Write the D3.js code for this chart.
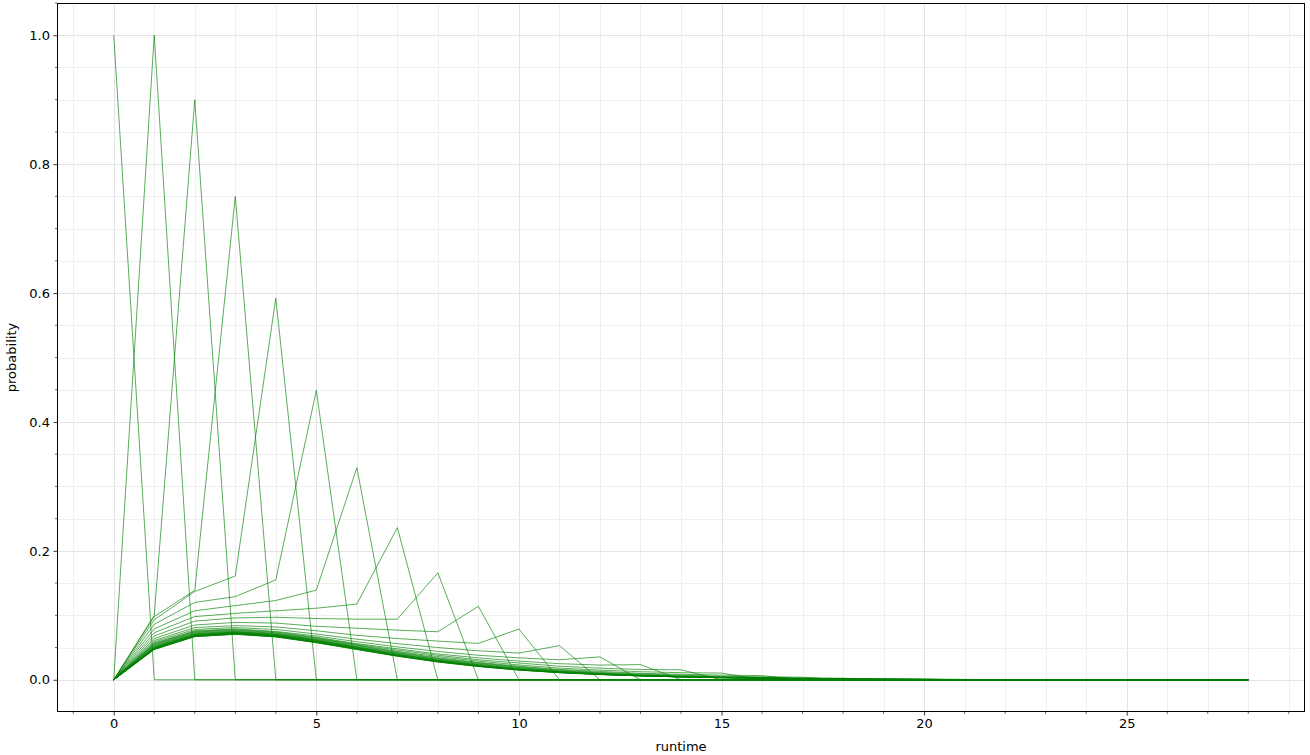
<!DOCTYPE html>
<html><head><meta charset="utf-8">
<script src="https://cdn.jsdelivr.net/npm/d3@7"></script>
<style>
html,body{margin:0;padding:0;background:#fff;}
svg{display:block;font-family:"DejaVu Sans",sans-serif;}
</style></head>
<body><svg id="c" width="1310" height="755"></svg>
<script>
const runtime = [0,1,2,3,4,5,6,7,8,9,10,11,12,13,14,15,16,17,18,19,20,21,22,23,24,25,26,27,28];
const xTicks = [0,5,10,15,20,25];
const yTicks = [0.0,0.2,0.4,0.6,0.8,1.0];
const xLabel = "runtime";
const yLabel = "probability";

const s00 = [1,0,0,0,0,0,0,0,0,0,0,0,0,0,0,0,0,0,0,0,0,0,0,0,0,0,0,0,0];
const s01 = [0,1,0,0,0,0,0,0,0,0,0,0,0,0,0,0,0,0,0,0,0,0,0,0,0,0,0,0,0];
const s02 = [0,0.100,0.900,0,0,0,0,0,0,0,0,0,0,0,0,0,0,0,0,0,0,0,0,0,0,0,0,0,0];
const s03 = [0,0.098,0.139,0.750,0,0,0,0,0,0,0,0,0,0,0,0,0,0,0,0,0,0,0,0,0,0,0,0,0];
const s04 = [0,0.093,0.137,0.161,0.592,0,0,0,0,0,0,0,0,0,0,0,0,0,0,0,0,0,0,0,0,0,0,0,0];
const s05 = [0,0.086,0.120,0.129,0.155,0.449,0,0,0,0,0,0,0,0,0,0,0,0,0,0,0,0,0,0,0,0,0,0,0];
const s06 = [0,0.079,0.107,0.115,0.123,0.139,0.329,0,0,0,0,0,0,0,0,0,0,0,0,0,0,0,0,0,0,0,0,0,0];
const s07 = [0,0.073,0.098,0.103,0.107,0.111,0.1175,0.236,0,0,0,0,0,0,0,0,0,0,0,0,0,0,0,0,0,0,0,0,0];
const s08 = [0,0.068,0.091,0.096,0.097,0.095,0.094,0.094,0.166,0,0,0,0,0,0,0,0,0,0,0,0,0,0,0,0,0,0,0,0];
const s09 = [0,0.064,0.085,0.089,0.088,0.083,0.080,0.077,0.0745,0.114,0,0,0,0,0,0,0,0,0,0,0,0,0,0,0,0,0,0,0];
const s10 = [0,0.061,0.081,0.084,0.082,0.076,0.069,0.064,0.060,0.0564,0.0787,0,0,0,0,0,0,0,0,0,0,0,0,0,0,0,0,0,0];
const s11 = [0,0.059,0.078,0.081,0.078,0.071,0.063,0.056,0.050,0.045,0.0414,0.053,0,0,0,0,0,0,0,0,0,0,0,0,0,0,0,0,0];
const s12 = [0,0.057,0.076,0.079,0.075,0.068,0.059,0.051,0.044,0.038,0.034,0.031,0.0355,0,0,0,0,0,0,0,0,0,0,0,0,0,0,0,0];
const s13 = [0,0.056,0.075,0.078,0.074,0.066,0.056,0.048,0.040,0.034,0.029,0.025,0.0228,0.0235,0,0,0,0,0,0,0,0,0,0,0,0,0,0,0];
const s14 = [0,0.055,0.074,0.077,0.073,0.065,0.055,0.046,0.038,0.031,0.026,0.021,0.018,0.016,0.0155,0,0,0,0,0,0,0,0,0,0,0,0,0,0];
const s15 = [0,0.054,0.073,0.076,0.072,0.064,0.054,0.044,0.036,0.029,0.023,0.018,0.015,0.0125,0.011,0.0104,0,0,0,0,0,0,0,0,0,0,0,0,0];
const s16 = [0,0.053,0.072,0.075,0.071,0.063,0.053,0.043,0.034,0.027,0.021,0.016,0.013,0.010,0.0085,0.0072,0.0065,0,0,0,0,0,0,0,0,0,0,0,0];
const s17 = [0,0.052,0.071,0.0745,0.0705,0.062,0.052,0.042,0.033,0.026,0.020,0.015,0.0115,0.009,0.007,0.0055,0.0046,0.0040,0,0,0,0,0,0,0,0,0,0,0];
const s18 = [0,0.051,0.0705,0.074,0.070,0.0615,0.051,0.041,0.032,0.025,0.019,0.014,0.0105,0.008,0.006,0.0047,0.0036,0.0029,0.0025,0,0,0,0,0,0,0,0,0,0];
const s19 = [0,0.0505,0.070,0.0735,0.0695,0.061,0.0505,0.040,0.031,0.024,0.018,0.0133,0.0098,0.0073,0.0055,0.0041,0.0031,0.0023,0.0018,0.0015,0,0,0,0,0,0,0,0,0];
const s20 = [0,0.050,0.0695,0.073,0.069,0.0605,0.050,0.0395,0.0305,0.0233,0.0173,0.0127,0.0094,0.0069,0.0051,0.0038,0.0028,0.0020,0.0015,0.0011,0.0010,0,0,0,0,0,0,0,0];
const s21 = [0,0.0495,0.069,0.0725,0.0685,0.060,0.0495,0.039,0.030,0.0227,0.0167,0.0122,0.0090,0.0066,0.0049,0.0036,0.0026,0.0019,0.0013,0.0009,0.0007,0.0006,0,0,0,0,0,0,0];
const s22 = [0,0.049,0.0685,0.072,0.068,0.0595,0.049,0.0385,0.0295,0.0222,0.0163,0.0119,0.0087,0.0064,0.0047,0.0035,0.0025,0.0018,0.0012,0.0009,0.0006,0.0004,0.0004,0,0,0,0,0,0];
const s23 = [0,0.0485,0.068,0.0718,0.0677,0.059,0.0485,0.038,0.029,0.0218,0.016,0.0116,0.0085,0.0063,0.0046,0.0034,0.0024,0.0017,0.0012,0.0008,0.0006,0.0004,0.0003,0.0002,0,0,0,0,0];
const s24 = [0,0.048,0.0678,0.0715,0.0674,0.0585,0.048,0.0375,0.0285,0.0214,0.0157,0.0114,0.0084,0.0062,0.0045,0.0033,0.0024,0.0017,0.0012,0.0008,0.0006,0.0004,0.0003,0.0002,0.0001,0,0,0,0];
const s25 = [0,0.0477,0.0675,0.0712,0.0671,0.0582,0.0477,0.0372,0.0282,0.0211,0.0155,0.0113,0.0083,0.0061,0.0045,0.0033,0.0023,0.0016,0.0011,0.0008,0.0005,0.0003,0.0002,0.0001,0.0001,0.0001,0,0,0];
const s26 = [0,0.0474,0.0673,0.0710,0.0669,0.0580,0.0474,0.0370,0.0280,0.0209,0.0153,0.0112,0.0083,0.0061,0.0044,0.0032,0.0023,0.0016,0.0011,0.0008,0.0005,0.0003,0.0002,0.0001,0.0001,0,0,0,0];
const s27 = [0,0.0472,0.0671,0.0707,0.0667,0.0577,0.0472,0.0367,0.0277,0.0207,0.0151,0.0111,0.0082,0.0060,0.0044,0.0032,0.0023,0.0016,0.0011,0.0008,0.0005,0.0003,0.0002,0.0001,0.0001,0,0,0,0];
const s28 = [0,0.0470,0.0670,0.0705,0.0665,0.0575,0.0470,0.0365,0.0275,0.0205,0.0150,0.0110,0.0082,0.0060,0.0044,0.0032,0.0023,0.0016,0.0011,0.0008,0.0005,0.0003,0.0002,0.0001,0.0001,0,0,0,0];

const seriesList = [s00,s01,s02,s03,s04,s05,s06,s07,s08,s09,s10,s11,s12,s13,s14,s15,s16,s17,s18,s19,s20,s21,s22,s23,s24,s25,s26,s27,s28];

const svg = d3.select("#c");
const L = 57, R = 1305, T = 3, B = 712;
const x = d3.scaleLinear().domain([-1.4, 29.4]).range([L, R]);
const y = d3.scaleLinear().domain([-0.05, 1.05]).range([B, T]);

// grid
const xMinor = d3.range(-1, 30, 1);
const yMinor = d3.range(0, 1.051, 0.05);
const g = svg.append("g");
g.selectAll(".xm").data(xMinor).join("line")
  .attr("x1", d => Math.round(x(d)) + 0.5).attr("x2", d => Math.round(x(d)) + 0.5)
  .attr("y1", T).attr("y2", B)
  .attr("stroke", d => (d % 5 === 0) ? "#e4e4e4" : "#efefef").attr("stroke-width", 1);
g.selectAll(".ym").data(yMinor).join("line")
  .attr("y1", d => Math.round(y(d)) + 0.5).attr("y2", d => Math.round(y(d)) + 0.5)
  .attr("x1", L).attr("x2", R)
  .attr("stroke", (d, i) => (i % 4 === 0) ? "#e4e4e4" : "#efefef").attr("stroke-width", 1);

// lines
const line = d3.line().x((d, i) => x(runtime[i])).y(d => y(d));
svg.append("g").selectAll("path").data(seriesList).join("path")
  .attr("d", line).attr("fill", "none")
  .attr("stroke", "#008000").attr("stroke-width", 0.65).attr("stroke-linejoin", "miter");

// axes
const xAxis = d3.axisBottom(x).tickValues(xTicks).tickFormat(d3.format("d")).tickSize(3.5).tickPadding(3.5);
const yAxis = d3.axisLeft(y).tickValues(yTicks).tickFormat(d3.format(".1f")).tickSize(3.5).tickPadding(3.5);
const gx = svg.append("g").attr("transform", `translate(0,${B})`).call(xAxis);
const gy = svg.append("g").attr("transform", `translate(${L},0)`).call(yAxis);
gx.append("g").selectAll("line").data(xMinor.filter(d => d % 5 !== 0 && d >= -1 && d <= 29)).join("line")
  .attr("x1", d => x(d)).attr("x2", d => x(d)).attr("y1", 0).attr("y2", 2).attr("stroke", "#000").attr("stroke-width", 0.6);
gy.append("g").selectAll("line").data(yMinor.filter((d, i) => i % 4 !== 0)).join("line")
  .attr("y1", d => y(d)).attr("y2", d => y(d)).attr("x1", 0).attr("x2", -2).attr("stroke", "#000").attr("stroke-width", 0.6);
[gx, gy].forEach(a => {
  a.select(".domain").remove();
  a.selectAll(".tick line").attr("stroke", "#000").attr("stroke-width", 0.8);
  a.selectAll(".tick text").attr("font-size", 13).attr("fill", "#000").attr("font-family", "DejaVu Sans");
});
svg.append("rect").attr("x", L + 0.5).attr("y", T + 0.5).attr("width", R - L - 1).attr("height", B - T - 1)
  .attr("fill", "none").attr("stroke", "#000").attr("stroke-width", 1);

svg.append("text").attr("x", (L + R) / 2).attr("y", 751).attr("text-anchor", "middle")
  .attr("font-size", 13).attr("font-family", "DejaVu Sans").text(xLabel);
svg.append("text").attr("transform", `translate(16,${(T + B) / 2}) rotate(-90)`).attr("text-anchor", "middle")
  .attr("font-size", 13).attr("font-family", "DejaVu Sans").text(yLabel);
</script></body></html>
